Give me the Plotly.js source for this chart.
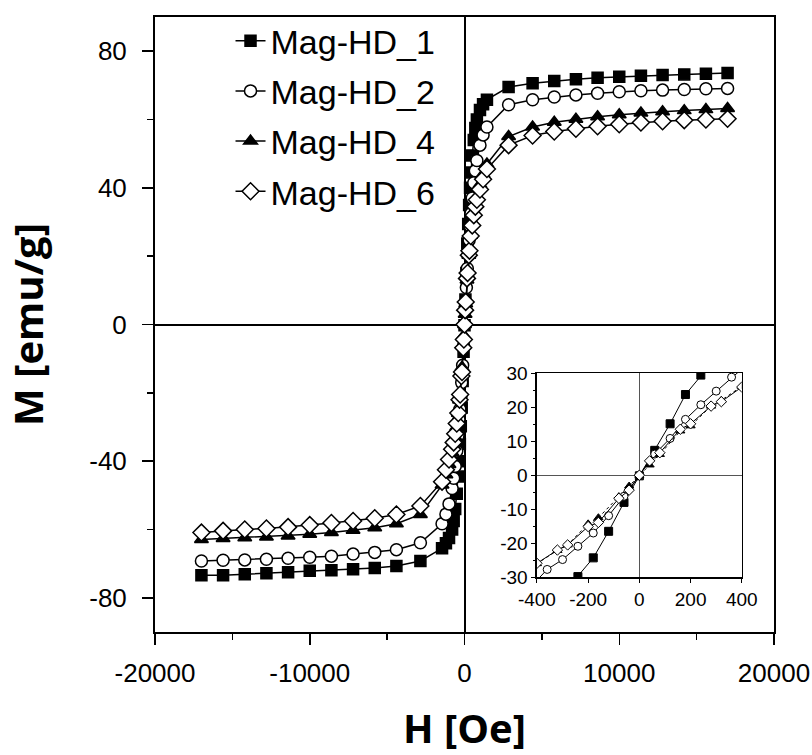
<!DOCTYPE html>
<html>
<head>
<meta charset="utf-8">
<script src="https://cdn.plot.ly/plotly-3.0.1.min.js"></script>
<style>html,body{margin:0;padding:0;background:#fff;}#chart{width:812px;height:755px;}</style>
</head>
<body>
<div id="chart"></div>
<script>
// Series names
const seriesNames = ["Mag-HD_1", "Mag-HD_2", "Mag-HD_4", "Mag-HD_6"];

// Field values (Oe) for Mag-HD_1 and Mag-HD_2
const fieldA = [-17000, -15600, -14200, -12800, -11400, -10000, -8600, -7200, -5800, -4400, -2850, -1450,
  -1200, -1000, -800, -700, -600, -500, -420, -360, -300, -240, -180, -120, -60, 0,
  60, 120, 180, 240, 300, 360, 420, 500, 600, 700, 800, 1000, 1200,
  1450, 2850, 4400, 5800, 7200, 8600, 10000, 11400, 12800, 14200, 15600, 17000];

// Field values (Oe) for Mag-HD_4 and Mag-HD_6
const fieldB = [-17000, -15600, -14200, -12800, -11400, -10000, -8600, -7200, -5800, -4400, -2850, -1450,
  -1200, -1000, -800, -700, -600, -500, -400, -320, -280, -200, -160, -80, -40, 0,
  40, 80, 160, 200, 280, 320, 400, 500, 600, 700, 800, 1000, 1200,
  1450, 2850, 4400, 5800, 7200, 8600, 10000, 11400, 12800, 14200, 15600, 17000];

// Magnetization (emu/g)
const magHD1 = [-73.4, -73.4, -73.1, -72.8, -72.5, -72.1, -71.9, -71.6, -71.3, -70.7, -69.2, -65.5,
  -64.0, -62.5, -60.0, -57.5, -54.0, -49.5, -44.5, -40.0, -35.0, -29.8, -24.3, -16.5, -8.0, -0.2,
  7.3, 15.1, 23.7, 29.4, 35.0, 40.0, 44.5, 49.5, 54.0, 57.5, 60.0, 62.8, 64.5,
  65.8, 69.5, 70.6, 71.3, 71.8, 72.2, 72.5, 72.8, 73.0, 73.2, 73.4, 73.6];

const magHD2 = [-69.2, -69.0, -68.9, -68.7, -68.4, -68.1, -67.8, -67.2, -66.7, -65.9, -63.9, -58.3,
  -55.5, -52.5, -48.0, -45.0, -41.5, -37.0, -32.5, -27.7, -24.8, -20.9, -17.0, -11.9, -6.2, 0.0,
  6.2, 10.8, 16.4, 20.7, 24.7, 28.8, 32.5, 37.0, 41.5, 45.0, 48.0, 52.5, 55.5,
  57.8, 64.3, 65.8, 66.6, 67.2, 67.7, 68.1, 68.4, 68.6, 68.8, 69.0, 69.1];

const magHD4 = [-62.9, -62.6, -62.4, -62.2, -61.9, -61.4, -60.9, -60.2, -59.5, -58.3, -55.6, -47.0,
  -44.0, -41.0, -37.5, -35.5, -33.0, -30.0, -26.0, -22.1, -20.5, -14.3, -12.5, -6.3, -3.2, 0.0,
  3.0, 6.1, 13.0, 14.5, 20.3, 22.0, 26.1, 30.0, 33.0, 35.5, 37.5, 41.0, 44.0,
  47.0, 55.0, 57.8, 59.2, 60.1, 60.8, 61.4, 61.9, 62.3, 62.6, 62.9, 63.2];

const magHD6 = [-60.9, -60.4, -60.0, -59.7, -59.3, -58.7, -58.1, -57.5, -56.7, -55.6, -53.1, -46.0,
  -42.5, -39.5, -36.5, -34.5, -32.0, -29.0, -25.9, -22.0, -20.5, -15.1, -13.9, -6.8, -4.4, 0.0,
  4.2, 6.6, 13.5, 15.1, 20.3, 21.6, 25.9, 29.0, 32.0, 34.5, 36.5, 39.5, 42.5,
  45.5, 52.5, 55.3, 56.5, 57.3, 58.0, 58.6, 59.1, 59.5, 59.8, 60.0, 60.2];

// Axis tick values
const mainXTicks = [-20000, -10000, 0, 10000, 20000];
const mainYTicks = [-80, -40, 0, 40, 80];
const insetXTicks = [-400, -200, 0, 200, 400];
const insetYTicks = [-30, -20, -10, 0, 10, 20, 30];

const fields = [fieldA, fieldA, fieldB, fieldB];
const mags = [magHD1, magHD2, magHD4, magHD6];
const symbols = ["square", "circle", "triangle-up", "diamond"];
const fills = ["black", "white", "black", "white"];
const mainSizes = [11, 12, 12, 13];
const insetDash = ["solid", "solid", "dot", "solid"];

const traces = [];
for (let i = 0; i < 4; i++) {
  traces.push({
    x: fields[i], y: mags[i], name: seriesNames[i], type: "scatter", mode: "lines+markers",
    line: {color: "black", width: 1.5},
    marker: {symbol: symbols[i], size: mainSizes[i], color: fills[i], line: {color: "black", width: 1.5}},
    legendgroup: "g" + i, xaxis: "x", yaxis: "y"
  });
}
for (let i = 0; i < 4; i++) {
  traces.push({
    x: fields[i], y: mags[i], name: seriesNames[i], type: "scatter", mode: "lines+markers",
    line: {color: "black", width: 1, dash: insetDash[i]},
    marker: {symbol: symbols[i], size: 8, color: fills[i], line: {color: "black", width: 1}},
    showlegend: false, xaxis: "x2", yaxis: "y2"
  });
}

const tickFont = {family: "Liberation Sans, Arial, sans-serif", size: 26, color: "black"};
const titleFont = {family: "Open Sans, Noto Sans, sans-serif", size: 40, color: "black", weight: 700};
const insetFont = {family: "Liberation Sans, Arial, sans-serif", size: 19, color: "black"};

const layout = {
  width: 812, height: 755,
  margin: {l: 155, r: 38, t: 14, b: 123},
  paper_bgcolor: "white", plot_bgcolor: "white",
  showlegend: true,
  legend: {x: 0.122, y: 1.008, xanchor: "left", yanchor: "top", bgcolor: "rgba(0,0,0,0)",
    font: {family: "Liberation Sans, Arial, sans-serif", size: 34, color: "black"},
    tracegroupgap: 3, itemwidth: 30},
  xaxis: {domain: [0, 1], range: [-20000, 20000], tickvals: mainXTicks, ticktext: mainXTicks.map(String),
    ticks: "outside", ticklen: 11, tickwidth: 1.5, tickcolor: "black",
    minor: {dtick: 5000, tick0: 0, ticks: "outside", ticklen: 6, tickwidth: 1.5, tickcolor: "black"},
    showline: true, linecolor: "black", linewidth: 2, mirror: true, showgrid: false,
    zeroline: true, zerolinecolor: "black", zerolinewidth: 2,
    tickfont: tickFont, ticklabelstandoff: 6, ticklabeloverflow: "allow",
    title: {text: "H [Oe]", font: titleFont, standoff: 28}},
  yaxis: {domain: [0, 1], range: [-90, 90], tickvals: mainYTicks, ticktext: mainYTicks.map(String),
    ticks: "outside", ticklen: 11, tickwidth: 1.5, tickcolor: "black",
    minor: {dtick: 20, tick0: 0, ticks: "outside", ticklen: 6, tickwidth: 1.5, tickcolor: "black"},
    showline: true, linecolor: "black", linewidth: 2, mirror: true, showgrid: false,
    zeroline: true, zerolinecolor: "black", zerolinewidth: 2,
    tickfont: tickFont, ticklabelstandoff: 10, ticklabeloverflow: "allow",
    title: {text: "M [emu/g]", font: titleFont, standoff: 38}},
  xaxis2: {domain: [0.617, 0.948], anchor: "y2", range: [-400, 400], tickvals: insetXTicks, ticktext: insetXTicks.map(String),
    ticks: "outside", ticklen: 4, tickwidth: 1, tickcolor: "black",
    showline: true, linecolor: "black", linewidth: 1.5, mirror: true, showgrid: false,
    zeroline: true, zerolinecolor: "#555", zerolinewidth: 1,
    tickfont: insetFont, ticklabelstandoff: 0, ticklabeloverflow: "allow"},
  yaxis2: {domain: [0.089, 0.421], anchor: "x2", range: [-30, 30], tickvals: insetYTicks, ticktext: insetYTicks.map(String),
    ticks: "outside", ticklen: 4, tickwidth: 1, tickcolor: "black",
    minor: {dtick: 5, tick0: 0, ticks: "outside", ticklen: 2, tickwidth: 1, tickcolor: "black"},
    showline: true, linecolor: "black", linewidth: 1.5, mirror: true, showgrid: false,
    zeroline: true, zerolinecolor: "#555", zerolinewidth: 1,
    tickfont: insetFont, ticklabelstandoff: 0, ticklabeloverflow: "allow"}
};

Plotly.newPlot("chart", traces, layout, {staticPlot: true, displayModeBar: false});
</script>
</body>
</html>
